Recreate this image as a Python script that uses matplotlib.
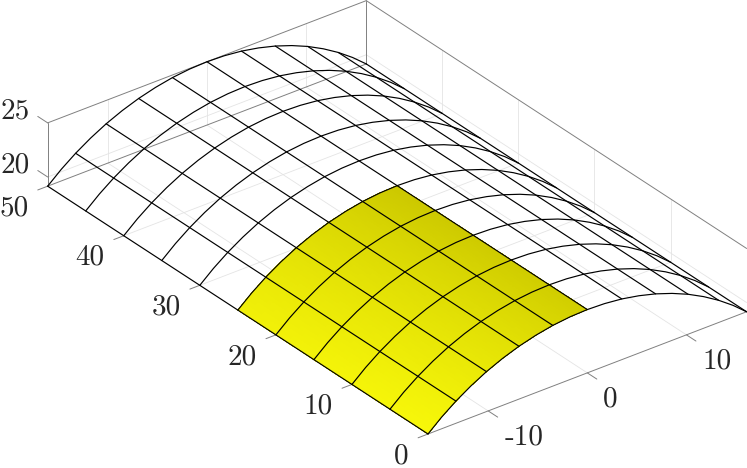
import numpy as np
import matplotlib
matplotlib.use('Agg')
import matplotlib.pyplot as plt
from mpl_toolkits.mplot3d import proj3d

# mesh
x_grid = [0, 5, 10, 15, 20, 25, 30, 35, 40, 45, 50]
y_half = [16.07, 14.69, 13.25, 11.74, 10.17, 8.55, 6.89, 5.20, 3.48, 1.74]
z_half = [19.15, 20.23, 21.20, 22.07, 22.84, 23.49, 24.03, 24.45, 24.76, 24.94]
crest = 25.0

y_prof = [-v for v in y_half] + [0] + y_half[::-1]
z_prof = z_half + [crest] + z_half[::-1]

x_ticks = [0, 10, 20, 30, 40, 50]
y_ticks = [-10, 0, 10]
z_ticks = [20, 25]
y_tick_labels = ['-10', '0', '10']

# yellow patch
patch_x = [0, 25]
patch_y = [-16.07, 0]

xmin, xmax = 0, 50
ymin, ymax = -16.07, 16.07
zmin, zmax = 19.15, 25

BOX = '#808080'
GRID = '#e4e4e4'
TEXT = '#262626'

plt.rcParams['font.family'] = ['cmr10', 'DejaVu Sans']
plt.rcParams['axes.unicode_minus'] = False

fig = plt.figure(figsize=(7.47, 4.68), dpi=100)
ax = fig.add_axes([0, -0.3, 1, 1.6], projection='3d', proj_type='ortho', computed_zorder=False)
ax.view_init(elev=30, azim=-37.5)
ax.set_axis_off()
ax.patch.set_alpha(0)


def line3(xs, ys, zs, color, lw, zorder):
    ax.plot(xs, ys, zs, color=color, lw=lw, zorder=zorder, solid_capstyle='round')


# grid on floor and the two back walls
for x in x_ticks[1:-1]:
    line3([x, x], [ymin, ymax], [zmin, zmin], GRID, 0.6, 1)
    line3([x, x], [ymax, ymax], [zmin, zmax], GRID, 0.6, 1)
for y in y_ticks:
    line3([xmin, xmax], [y, y], [zmin, zmin], GRID, 0.6, 1)
    line3([xmax, xmax], [y, y], [zmin, zmax], GRID, 0.6, 1)
line3([xmax, xmax], [ymin, ymax], [20, 20], GRID, 0.6, 1)
line3([xmin, xmax], [ymax, ymax], [20, 20], GRID, 0.6, 1)

# box
line3([xmin, xmin], [ymin, ymax], [zmin, zmin], BOX, 0.7, 2)
line3([xmax, xmax], [ymin, ymax], [zmin, zmin], BOX, 0.7, 2)
line3([xmax, xmax], [ymin, ymax], [zmax, zmax], BOX, 0.7, 2)
line3([xmin, xmax], [ymax, ymax], [zmax, zmax], BOX, 0.7, 2)
line3([xmax, xmax], [ymin, ymin], [zmin, zmax], BOX, 0.7, 2)
line3([xmax, xmax], [ymax, ymax], [zmin, zmax], BOX, 0.7, 2)
line3([xmin, xmin], [ymax, ymax], [zmin, zmax], BOX, 0.7, 2)

# tick marks
for x in x_ticks:
    line3([x, x], [ymin, ymin - 1.0], [zmin, zmin], BOX, 0.7, 2)
for y in y_ticks:
    line3([xmin, xmin - 1.25], [y, y], [zmin, zmin], BOX, 0.7, 2)
for z in z_ticks:
    line3([xmax, xmax + 1.3], [ymin, ymin], [z, z], BOX, 0.7, 2)

# yellow part, split finer so that the shading runs smoothly
n = 60
fx = np.linspace(patch_x[0], patch_x[1], n + 1)
fy = np.linspace(patch_y[0], patch_y[1], n + 1)
fz = np.interp(fy, y_prof, z_prof)
X, Y = np.meshgrid(fx, fy)
Z = np.tile(fz, (n + 1, 1)).T
u = (X - patch_x[0]) / (patch_x[1] - patch_x[0])
v = (Y - patch_y[0]) / (patch_y[1] - patch_y[0])
c00 = np.array([247, 247, 10]) / 255
c10 = np.array([240, 239, 8]) / 255
c01 = np.array([209, 206, 0]) / 255
c11 = np.array([203, 199, 0]) / 255
colors = ((1 - u) * (1 - v))[..., None] * c00 + (u * (1 - v))[..., None] * c10 \
    + ((1 - u) * v)[..., None] * c01 + (u * v)[..., None] * c11
ax.plot_surface(X, Y, Z, facecolors=colors, shade=False, rstride=1, cstride=1,
                linewidth=0, antialiased=False, zorder=3)

# wire mesh, the white cells are see-through
for x in x_grid:
    line3([x] * len(y_prof), y_prof, z_prof, 'black', 0.85, 4)
for y, z in zip(y_prof[::2], z_prof[::2]):
    line3([xmin, xmax], [y, y], [z, z], 'black', 0.85, 4)

ax.set_xlim(xmax, xmin)
ax.set_ylim(ymin, ymax)
ax.set_zlim(zmin, zmax)


def to_px(x, y, z):
    xs, ys, _ = proj3d.proj_transform(x, y, z, ax.get_proj())
    return ax.transData.transform((xs, ys))


# fit the box to the corners of the reference
target_a = np.array([428.0, 468 - 434.0])
target_b = np.array([746.7, 468 - 312.0])
aspect = (xmax - xmin, ymax - ymin, zmax - zmin)
ax.set_box_aspect(aspect, zoom=1.0)
fig.canvas.draw()
a = to_px(xmin, ymin, zmin)
b = to_px(xmin, ymax, zmin)
zoom = np.linalg.norm(target_b - target_a) / np.linalg.norm(b - a)
ax.set_box_aspect(aspect, zoom=zoom)
fig.canvas.draw()
shift = target_a - to_px(xmin, ymin, zmin)
pos = ax.get_position()
ax.set_position([pos.x0 + shift[0] / 747, pos.y0 + shift[1] / 468, pos.width, pos.height])
fig.canvas.draw()


def label(x, y, z, s, dx, dy, ha):
    xs, ys, _ = proj3d.proj_transform(x, y, z, ax.get_proj())
    ax.annotate(s, xy=(xs, ys), xytext=(dx, dy), textcoords='offset pixels',
                ha=ha, va='center', fontsize=21, color=TEXT, annotation_clip=False)


for x in x_ticks:
    label(x, ymin, zmin, str(x), -19, -22, 'right')
for y, s in zip(y_ticks, y_tick_labels):
    label(xmin, y, zmin, s, 16, -26, 'left')
for z in z_ticks:
    label(xmax, ymin, z, str(z), -18, 12, 'right')

fig.savefig('out.png', dpi=100)
